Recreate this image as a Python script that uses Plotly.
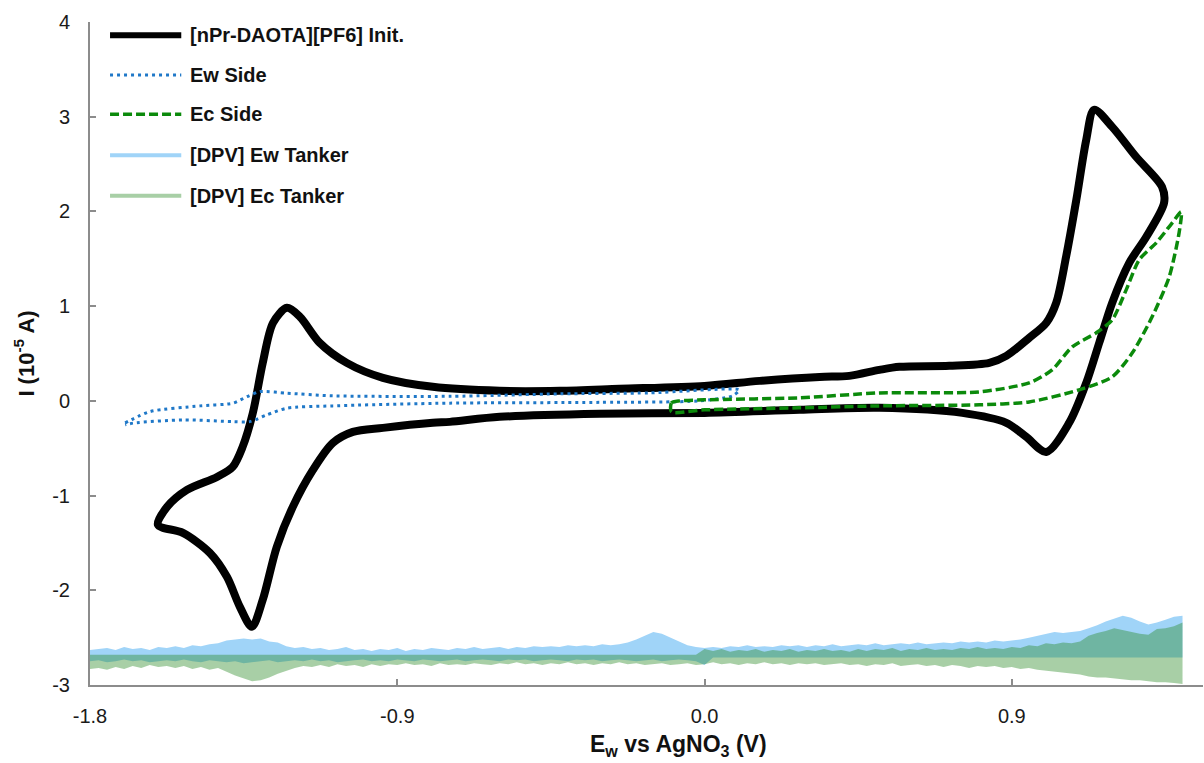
import plotly.graph_objects as go

# ---------------- cyclic voltammogram: [nPr-DAOTA][PF6] initial scan ----------------
cv_e = [-1.601, -1.574, -1.516, -1.428, -1.382, -1.353, -1.323, -1.294, -1.264, -1.223,
        -1.185, -1.127, -1.048, -0.942, -0.796, -0.600, -0.424, -0.249, 0.000, 0.161,
        0.337, 0.424, 0.512, 0.571, 0.717, 0.834, 0.884, 0.951, 1.001, 1.030,
        1.059, 1.089, 1.118, 1.141, 1.194, 1.264, 1.340, 1.346,
        1.294, 1.244, 1.194, 1.156, 1.118, 1.068, 1.001, 0.942, 0.884, 0.755,
        0.512, 0.278, 0.000, -0.307, -0.600, -0.746, -0.796, -0.942, -1.030, -1.089,
        -1.147, -1.206, -1.253, -1.294, -1.326, -1.361, -1.399, -1.449, -1.528, -1.601]
cv_i = [-1.309, -1.119, -0.940, -0.803, -0.697, -0.486, -0.127, 0.401, 0.824, 0.982,
        0.887, 0.612, 0.401, 0.243, 0.148, 0.106, 0.106, 0.127, 0.158, 0.211,
        0.253, 0.264, 0.327, 0.359, 0.370, 0.401, 0.475, 0.665, 0.824, 1.035,
        1.521, 2.123, 2.756, 3.073, 2.893, 2.577, 2.260, 2.091,
        1.732, 1.457, 1.035, 0.612, 0.190, -0.232, -0.539, -0.380, -0.232, -0.127,
        -0.074, -0.095, -0.127, -0.137, -0.169, -0.222, -0.232, -0.285, -0.327, -0.444,
        -0.729, -1.119, -1.542, -2.101, -2.386, -2.175, -1.858, -1.605, -1.394, -1.309]

# ---------------- working-electrode side ----------------
ew_side_e = [-1.697, -1.624, -1.478, -1.381, -1.340, -1.302, -1.223, -1.089, -0.746, -0.424,
             -0.161, 0.102, 0.082, -0.015, -0.307, -0.746, -1.089, -1.223, -1.282, -1.332,
             -1.381, -1.528, -1.674, -1.697]
ew_side_i = [-0.232, -0.113, -0.053, -0.024, 0.045, 0.098, 0.081, 0.053, 0.048, 0.074,
             0.084, 0.116, 0.053, 0.000, -0.016, -0.024, -0.053, -0.077, -0.148, -0.219,
             -0.219, -0.201, -0.235, -0.253]

# ---------------- counter-electrode side ----------------
ec_side_e = [-0.097, -0.097, -0.073, 0.000, 0.278, 0.512, 0.805, 0.951, 1.018, 1.077,
             1.147, 1.194, 1.235, 1.273, 1.323, 1.370, 1.396, 1.390, 1.361, 1.311,
             1.253, 1.194, 1.097, 0.951, 0.805, 0.512, 0.278, 0.000, -0.097]
ec_side_i = [-0.116, -0.021, 0.000, 0.011, 0.032, 0.084, 0.095, 0.190, 0.327, 0.570,
             0.718, 0.855, 1.172, 1.489, 1.668, 1.880, 1.996, 1.774, 1.309, 0.887,
             0.507, 0.253, 0.116, -0.011, -0.042, -0.053, -0.074, -0.095, -0.116]

# ---------------- DPV of the tanker solutions (offset trace at the bottom) ----------------
dpv_e = [-1.800, -1.775, -1.750, -1.725, -1.700, -1.675, -1.650, -1.625,
         -1.600, -1.575, -1.550, -1.525, -1.500, -1.475, -1.450, -1.425,
         -1.400, -1.375, -1.350, -1.325, -1.300, -1.275, -1.250, -1.225,
         -1.200, -1.175, -1.150, -1.125, -1.100, -1.075, -1.050, -1.025,
         -1.000, -0.975, -0.950, -0.925, -0.900, -0.875, -0.850, -0.825,
         -0.800, -0.775, -0.750, -0.725, -0.700, -0.675, -0.650, -0.625,
         -0.600, -0.575, -0.550, -0.525, -0.500, -0.475, -0.450, -0.425,
         -0.400, -0.375, -0.350, -0.325, -0.300, -0.275, -0.250, -0.225,
         -0.200, -0.175, -0.150, -0.125, -0.100, -0.075, -0.050, -0.025,
         0.000, 0.025, 0.050, 0.075, 0.100, 0.125, 0.150, 0.175,
         0.200, 0.225, 0.250, 0.275, 0.300, 0.325, 0.350, 0.375,
         0.400, 0.425, 0.450, 0.475, 0.500, 0.525, 0.550, 0.575,
         0.600, 0.625, 0.650, 0.675, 0.700, 0.725, 0.750, 0.775,
         0.800, 0.825, 0.850, 0.875, 0.900, 0.925, 0.950, 0.975,
         1.000, 1.025, 1.050, 1.075, 1.100, 1.125, 1.150, 1.175,
         1.200, 1.225, 1.250, 1.275, 1.300, 1.325, 1.350, 1.375,
         1.400]

ew_tank_hi = [-2.63, -2.62, -2.61, -2.63, -2.60, -2.62, -2.61, -2.63,
              -2.60, -2.61, -2.59, -2.61, -2.58, -2.59, -2.57, -2.56,
              -2.53, -2.52, -2.51, -2.52, -2.51, -2.54, -2.55, -2.59,
              -2.61, -2.60, -2.62, -2.61, -2.63, -2.62, -2.60, -2.63,
              -2.62, -2.64, -2.62, -2.63, -2.61, -2.64, -2.62, -2.63,
              -2.61, -2.62, -2.63, -2.61, -2.62, -2.60, -2.62, -2.61,
              -2.60, -2.62, -2.60, -2.61, -2.59, -2.60, -2.59, -2.60,
              -2.58, -2.59, -2.58, -2.59, -2.57, -2.58, -2.57, -2.55,
              -2.52, -2.48, -2.44, -2.46, -2.50, -2.54, -2.58, -2.60,
              -2.61, -2.60, -2.61, -2.59, -2.60, -2.58, -2.60, -2.59,
              -2.60, -2.58, -2.59, -2.58, -2.60, -2.58, -2.59, -2.57,
              -2.59, -2.58, -2.57, -2.58, -2.56, -2.58, -2.57, -2.56,
              -2.57, -2.55, -2.57, -2.56, -2.55, -2.56, -2.54, -2.55,
              -2.54, -2.55, -2.53, -2.54, -2.53, -2.52, -2.50, -2.48,
              -2.46, -2.44, -2.45, -2.44, -2.43, -2.40, -2.37, -2.33,
              -2.30, -2.27, -2.29, -2.33, -2.36, -2.34, -2.31, -2.28,
              -2.27]
ew_tank_lo = [-2.75, -2.74, -2.76, -2.75, -2.73, -2.75, -2.74, -2.76,
              -2.75, -2.74, -2.75, -2.73, -2.75, -2.76, -2.74, -2.75,
              -2.76, -2.75, -2.77, -2.76, -2.75, -2.74, -2.76, -2.75,
              -2.74, -2.75, -2.73, -2.75, -2.74, -2.76, -2.75, -2.74,
              -2.73, -2.75, -2.74, -2.75, -2.73, -2.74, -2.75, -2.73,
              -2.74, -2.75, -2.74, -2.73, -2.75, -2.74, -2.73, -2.74,
              -2.75, -2.73, -2.74, -2.73, -2.75, -2.74, -2.73, -2.74,
              -2.75, -2.73, -2.74, -2.73, -2.75, -2.74, -2.73, -2.74,
              -2.75, -2.74, -2.73, -2.75, -2.74, -2.73, -2.74, -2.75,
              -2.79] + [-2.71] * 56

ec_tank_hi = [-2.68] * 72 + [
              -2.62, -2.64, -2.62, -2.65, -2.63, -2.64, -2.62, -2.65,
              -2.63, -2.64, -2.62, -2.65, -2.63, -2.64, -2.62, -2.64,
              -2.63, -2.65, -2.62, -2.64, -2.62, -2.63, -2.61, -2.64,
              -2.62, -2.63, -2.61, -2.63, -2.62, -2.63, -2.61, -2.62,
              -2.60, -2.62, -2.61, -2.62, -2.60, -2.61, -2.58, -2.59,
              -2.56, -2.57, -2.55, -2.56, -2.54, -2.48, -2.45, -2.43,
              -2.40, -2.42, -2.44, -2.46, -2.47, -2.41, -2.40, -2.38,
              -2.34]
ec_tank_lo = [-2.83, -2.82, -2.84, -2.81, -2.83, -2.80, -2.82, -2.79,
              -2.81, -2.80, -2.82, -2.80, -2.83, -2.81, -2.84, -2.82,
              -2.86, -2.90, -2.93, -2.96, -2.95, -2.92, -2.88, -2.85,
              -2.82, -2.80, -2.81, -2.79, -2.81, -2.78, -2.80, -2.79,
              -2.81, -2.78, -2.80, -2.78, -2.79, -2.77, -2.79, -2.78,
              -2.80, -2.77, -2.79, -2.78, -2.79, -2.77, -2.78, -2.79,
              -2.77, -2.78, -2.76, -2.78, -2.77, -2.79, -2.77, -2.78,
              -2.76, -2.78, -2.77, -2.79, -2.77, -2.78, -2.76, -2.78,
              -2.77, -2.79, -2.78, -2.77, -2.79, -2.78, -2.77, -2.79,
              -2.78, -2.76, -2.78, -2.77, -2.79, -2.77, -2.78, -2.76,
              -2.78, -2.77, -2.79, -2.77, -2.78, -2.77, -2.79, -2.78,
              -2.77, -2.79, -2.78, -2.80, -2.78, -2.79, -2.77, -2.80,
              -2.79, -2.78, -2.80, -2.79, -2.81, -2.79, -2.80, -2.82,
              -2.80, -2.81, -2.80, -2.82, -2.81, -2.83, -2.82, -2.84,
              -2.85, -2.86, -2.87, -2.88, -2.89, -2.91, -2.92, -2.92,
              -2.93, -2.94, -2.95, -2.95, -2.96, -2.97, -2.97, -2.98,
              -2.99]

# ---------------- axes ----------------
x_ticks = [-1.8, -0.9, 0.0, 0.9]
x_tick_labels = ["-1.8", "-0.9", "0.0", "0.9"]
y_ticks = [-3, -2, -1, 0, 1, 2, 3, 4]
y_tick_labels = ["-3", "-2", "-1", "0", "1", "2", "3", "4"]
x_title = "E<sub>w</sub> vs AgNO<sub>3</sub> (V)"
y_title = "I (10<sup>-5</sup> A)"

series_names = ["[nPr-DAOTA][PF6] Init.", "Ew Side", "Ec Side",
                "[DPV] Ew Tanker", "[DPV] Ec Tanker"]

BLACK = "#000000"
BLUE = "#1f78c8"
GREEN = "#0b8a0b"
DPV_BLUE = "rgb(160,212,248)"
DPV_GREEN = "rgba(38,135,32,0.40)"
DPV_GREEN_KEY = "rgb(168,207,166)"
AXIS_GREY = "#8c8c8c"
FONT = "Liberation Sans, Arial, sans-serif"

fig = go.Figure()

# DPV bands, drawn as closed outlines filled against the offset baseline
fig.add_trace(go.Scatter(
    x=dpv_e + dpv_e[::-1], y=ew_tank_hi + ew_tank_lo[::-1],
    mode="lines", fill="toself", fillcolor=DPV_BLUE,
    line=dict(width=0, color=DPV_BLUE), name=series_names[3], hoverinfo="skip"))
fig.add_trace(go.Scatter(
    x=dpv_e + dpv_e[::-1], y=ec_tank_hi + ec_tank_lo[::-1],
    mode="lines", fill="toself", fillcolor=DPV_GREEN,
    line=dict(width=0, color=DPV_GREEN), name=series_names[4], hoverinfo="skip"))

# CV traces
fig.add_trace(go.Scatter(
    x=cv_e, y=cv_i, mode="lines", name=series_names[0],
    line=dict(color=BLACK, width=8, shape="spline", smoothing=0.85)))
fig.add_trace(go.Scatter(
    x=ew_side_e, y=ew_side_i, mode="lines", name=series_names[1],
    line=dict(color=BLUE, width=3, dash="3px,4px", shape="spline", smoothing=0.7)))
fig.add_trace(go.Scatter(
    x=ec_side_e, y=ec_side_i, mode="lines", name=series_names[2],
    line=dict(color=GREEN, width=3.5, dash="9px,4px", shape="spline", smoothing=0.7)))

# legend key (top-left, inside the plot area)
key_styles = [
    dict(color=BLACK, width=6, dash="solid"),
    dict(color=BLUE, width=3, dash="3px,4px"),
    dict(color=GREEN, width=3.5, dash="9px,4px"),
    dict(color=DPV_BLUE, width=4, dash="solid"),
    dict(color=DPV_GREEN_KEY, width=4, dash="solid"),
]
key_rows = [0.980, 0.920, 0.861, 0.799, 0.738]
for name, style, yk in zip(series_names, key_styles, key_rows):
    fig.add_shape(type="line", xref="paper", yref="paper",
                  x0=0.018, x1=0.082, y0=yk, y1=yk, line=style)
    fig.add_annotation(xref="paper", yref="paper", x=0.088, y=yk,
                       xanchor="left", yanchor="middle", showarrow=False,
                       text="<b>" + name + "</b>",
                       font=dict(family=FONT, size=20, color="#111111"))

# x-axis title, set a little right of the plot centre
fig.add_annotation(xref="paper", yref="paper", x=0.529, y=-0.0905,
                   xanchor="center", yanchor="middle", showarrow=False,
                   text="<b>" + x_title + "</b>",
                   font=dict(family=FONT, size=23, color="#111111"))

fig.update_layout(
    width=1204, height=763,
    margin=dict(l=90, r=1, t=22, b=78),
    plot_bgcolor="white", paper_bgcolor="white",
    showlegend=False,
    font=dict(family=FONT, size=20, color="#1a1a1a"),
)
fig.update_xaxes(
    range=[-1.8, 1.46], tickvals=x_ticks, ticktext=x_tick_labels,
    ticks="inside", ticklen=6, tickwidth=2, tickcolor=AXIS_GREY,
    showline=True, linecolor=AXIS_GREY, linewidth=2,
    showgrid=False, zeroline=False, automargin=False,
    ticklabelstandoff=12,
    tickfont=dict(family=FONT, size=20, color="#1a1a1a"),
)
fig.update_yaxes(
    range=[-3, 4], tickvals=y_ticks, ticktext=y_tick_labels,
    ticks="inside", ticklen=6, tickwidth=2, tickcolor=AXIS_GREY,
    showline=True, linecolor=AXIS_GREY, linewidth=2,
    showgrid=False, zeroline=False, automargin=False,
    ticklabelstandoff=14,
    tickfont=dict(family=FONT, size=20, color="#1a1a1a"),
    title=dict(text="<b>" + y_title + "</b>",
               font=dict(family=FONT, size=22, color="#111111"), standoff=12),
)

fig.write_html("out.html")
